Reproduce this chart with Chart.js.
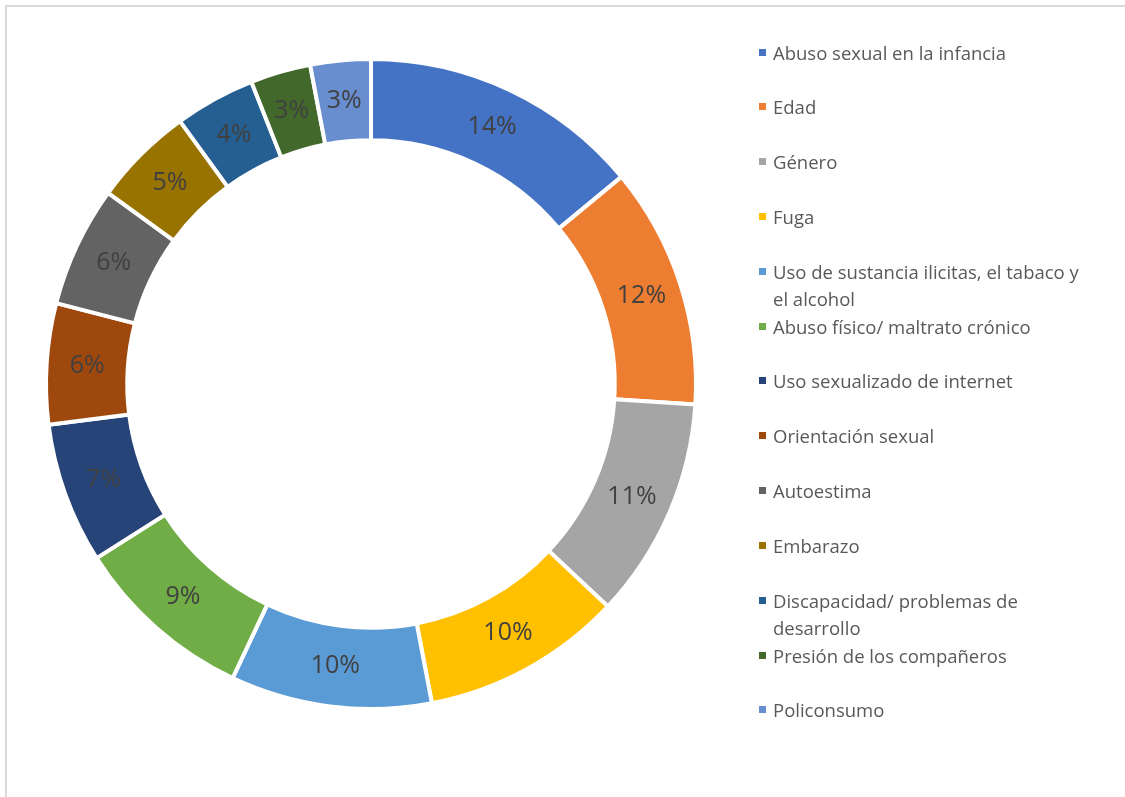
<!DOCTYPE html>
<html><head><meta charset="utf-8">
<script src="https://cdn.jsdelivr.net/npm/chart.js@4/dist/chart.umd.min.js"></script>
<style>
html,body{margin:0;padding:0;background:#fff;}
#wrap{position:relative;width:1125px;height:797px;overflow:hidden;}
#frame{position:absolute;left:5px;top:5px;width:1130px;height:800px;border-top:2px solid #d9d9d9;border-left:2px solid #d9d9d9;box-sizing:border-box;}
#c{position:absolute;left:0;top:0;}
.li{position:absolute;left:759px;width:350px;font-family:"Open Sans",sans-serif;font-size:18.5px;line-height:27px;color:#595959;}
.li .sw{position:absolute;left:0;top:10px;width:7px;height:7px;}
.li .tx{margin-left:14px;display:block;width:322px;}
</style></head>
<body><div id="wrap"><div id="frame"></div><canvas id="c" width="1125" height="797"></canvas><div id="legend"></div></div>
<script>
const categories = ["Abuso sexual en la infancia","Edad","Género","Fuga","Uso de sustancia ilicitas, el tabaco y el alcohol","Abuso físico/ maltrato crónico","Uso sexualizado de internet","Orientación sexual","Autoestima","Embarazo","Discapacidad/ problemas de desarrollo","Presión de los compañeros","Policonsumo"];
const values = [14,12,11,10,10,9,7,6,6,5,4,3,3];
const colors = ["#4472C4","#ED7D31","#A5A5A5","#FFC000","#5B9BD5","#70AD47","#264478","#9E480E","#636363","#997300","#255E91","#43682B","#698ED0"];

const labelPlugin = {
  id:'pctLabels',
  afterDatasetsDraw(chart){
    const ctx = chart.ctx;
    const meta = chart.getDatasetMeta(0);
    const total = values.reduce((a,b)=>a+b,0);
    ctx.save();
    ctx.font = '25px "Open Sans", sans-serif';
    ctx.fillStyle = '#404040';
    ctx.textAlign = 'center';
    ctx.textBaseline = 'middle';
    meta.data.forEach((arc,i)=>{
      const p = arc.tooltipPosition();
      ctx.fillText(Math.round(values[i]/total*100)+'%', p.x, p.y);
    });
    ctx.restore();
  }
};

new Chart(document.getElementById('c'),{
  type:'doughnut',
  data:{labels:categories,datasets:[{data:values,backgroundColor:colors,borderColor:'#ffffff',borderWidth:4}]},
  options:{
    responsive:false,animation:false,cutout:'75%',
    layout:{padding:{left:44,right:427,top:57,bottom:86}},
    plugins:{legend:{display:false},tooltip:{enabled:false}}
  },
  plugins:[labelPlugin]
});

const lg = document.getElementById('legend');
categories.forEach((name,i)=>{
  const d = document.createElement('div');
  d.className='li';
  d.style.top = (52 + i*54.83 - 13.5)+'px';
  d.innerHTML = '<span class="sw" style="background:'+colors[i]+'"></span><span class="tx">'+name+'</span>';
  lg.appendChild(d);
});
</script>
</body></html>
